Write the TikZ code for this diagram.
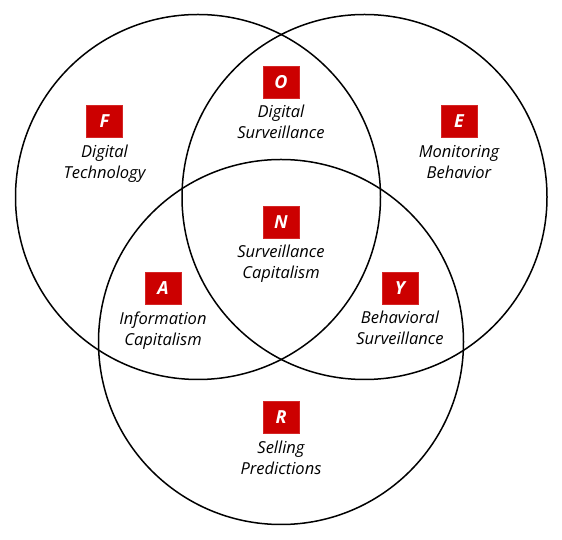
\documentclass[tikz,border=0pt]{standalone}
\usepackage{fontspec}
\setmainfont{Open Sans}
\definecolor{boxred}{HTML}{CC0000}
\begin{document}
\begin{tikzpicture}[x=1pt,y=1pt,
  ring/.style={draw=black,line width=1.5pt},
  letterbox/.style={fill=boxred,draw=boxred!85!white,line width=0.6pt,minimum width=36pt,minimum height=32pt,inner sep=0pt,text=white,font=\bfseries\itshape\fontsize{18}{18}\selectfont},
  caption/.style={align=center,font=\itshape\fontsize{16.5}{21}\selectfont,inner sep=0pt,anchor=north}]
\useasboundingbox (0,0) rectangle (562,540);
\fill[white] (0,0) rectangle (562,540);
\draw[ring] (198,343) circle (182.5);
\draw[ring] (364.5,343) circle (182.5);
\draw[ring] (281,198) circle (182.5);
% labels
\node[letterbox] (F) at (104.5,418.5) {F};
\node[caption] (Ft) at ([yshift=-23.2pt]F.center) {Digital\\Technology};
\node[letterbox] (O) at (281,458) {O};
\node[caption] (Ot) at ([yshift=-23.2pt]O.center) {Digital\\Surveillance};
\node[letterbox] (E) at (459,418.5) {E};
\node[caption] (Et) at ([yshift=-23.2pt]E.center) {Monitoring\\Behavior};
\node[letterbox] (N) at (281,318) {N};
\node[caption] (Nt) at ([yshift=-23.2pt]N.center) {Surveillance\\Capitalism};
\node[letterbox] (A) at (163,252) {A};
\node[caption] (At) at ([yshift=-23.2pt]A.center) {Information\\Capitalism};
\node[letterbox] (Y) at (400,252) {Y};
\node[caption] (Yt) at ([yshift=-23.2pt]Y.center) {Behavioral\\Surveillance};
\node[letterbox] (R) at (281,122.5) {R};
\node[caption] (Rt) at ([yshift=-23.2pt]R.center) {Selling\\Predictions};
\end{tikzpicture}
\end{document}
